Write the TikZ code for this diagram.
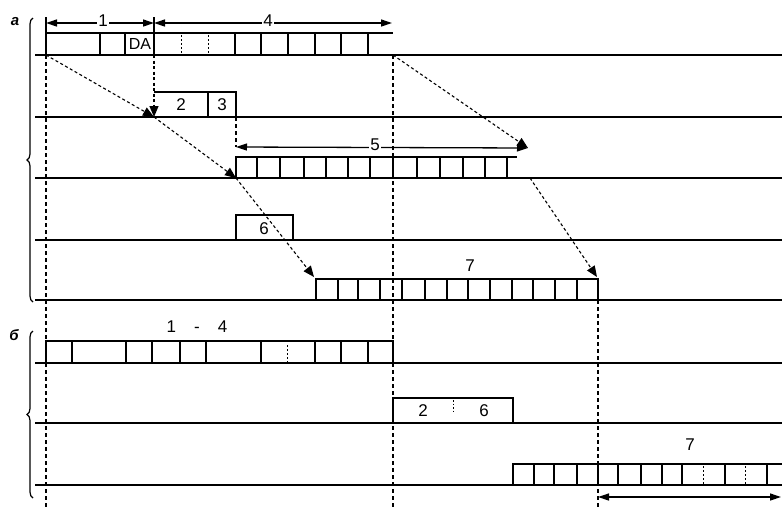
\documentclass[tikz,border=0pt]{standalone}
\usepackage{fontspec}
\setmainfont{Liberation Sans}
\usetikzlibrary{arrows.meta,decorations.pathreplacing}
\begin{document}
\begin{tikzpicture}[x=1pt,y=-1pt,
  axis/.style={line width=1.6pt},
  cellbox/.style={line width=1.3pt},
  thin cell/.style={line width=1pt,dash pattern=on 2pt off 2pt},
  guide/.style={line width=1.1pt,dash pattern=on 4pt off 3pt},
  flow/.style={line width=1.1pt,dash pattern=on 3pt off 2.5pt,-{Triangle[length=11pt,width=9pt]}},
  dimline/.style={line width=1.3pt,{Triangle[length=11pt,width=7pt]}-{Triangle[length=11pt,width=7pt]}},
  lbl/.style={font=\fontsize{17}{17}\selectfont,inner sep=1pt},
  seclbl/.style={font=\fontsize{15}{15}\selectfont\bfseries\itshape,inner sep=0pt},
  bracestyle/.style={line width=1.2pt,decorate,decoration={brace,amplitude=6pt}}]
\useasboundingbox (0,0) rectangle (782,507);
\fill[white] (0,0) rectangle (782,507);

% time axes
\foreach \y in {55,117,178,240,300,363,423,485}
  \draw[axis] (35,\y) -- (782,\y);

% named points
\coordinate (a1s) at (46,55);
\coordinate (a1e) at (393,55);
\coordinate (daTop) at (154,55);
\coordinate (a2s) at (154,117);
\coordinate (a2e) at (236,117);
\coordinate (a3s) at (236,178);
\coordinate (a3e) at (530,178);
\coordinate (a5s) at (314,277);
\coordinate (a5e) at (597,277);
\coordinate (d5e) at (528,148);
\coordinate (a3top) at (236,147);

% guide lines
\draw[guide] (46,55) -- (46,507);
\draw[guide] (393,55) -- (393,507);
\draw[guide] (598,300) -- (598,507);
\draw[guide] (a2e) -- (a3top);

% ---- section a, row 1
\draw[cellbox] (46,55) -- (46,17);
\draw[cellbox] (154,33) -- (154,17);
\draw[cellbox] (46,33) -- (393,33);
\foreach \x in {100,125,154,235,261,288,315,341,368}
  \draw[cellbox] (\x,33) -- (\x,55);
\foreach \x in {181,208}
  \draw[thin cell] (\x,35) -- (\x,55);
\node[font=\fontsize{16}{16}\selectfont,inner sep=0pt] (da) at (140,44) {DA};
\draw[dimline] (46,23) -- (154,23);
\draw[dimline] (154,23) -- (392,23);
\node[lbl,fill=white] (l1) at (103,21) {1};
\node[lbl,fill=white] (l4) at (268,21) {4};

% row 2
\draw[cellbox] (154,92) -- (236,92) -- (236,117);
\draw[cellbox] (208,92) -- (208,117);
\node[lbl] (l2) at (181,105) {2};
\node[lbl] (l3) at (222,105) {3};

% row 3
\draw[cellbox] (236,178) -- (236,157) -- (517,157);
\foreach \x in {257,280,304,326,348,370,393,417,440,463,485,507}
  \draw[cellbox] (\x,157) -- (\x,178);
\draw[dimline] (a3top) -- (d5e);
\node[lbl,fill=white] (l5) at (375,145) {5};

% row 4
\draw[cellbox] (236,240) -- (236,215) -- (293,215) -- (293,240);
\node[lbl] (l6) at (264,229) {6};

% row 5
\draw[cellbox] (316,300) -- (316,279) -- (598,279) -- (598,300);
\foreach \x in {338,358,380,402,425,447,468,490,512,533,555,577}
  \draw[cellbox] (\x,279) -- (\x,300);
\node[lbl] (l7) at (470,266) {7};

% flow arrows
\draw[flow] (daTop) -- (a2s);
\draw[flow] (a1s) -- (a2s);
\draw[flow] (a2s) -- (a3s);
\draw[flow] (a3s) -- (a5s);
\draw[flow] (a1e) -- (d5e);
\draw[flow] (a3e) -- (a5e);

% ---- section b, row 1
\draw[cellbox] (46,363) -- (46,341) -- (393,341) -- (393,363);
\foreach \x in {72,126,152,180,206,261,315,341,368}
  \draw[cellbox] (\x,341) -- (\x,363);
\draw[thin cell] (287,345) -- (287,363);
\node[lbl] (l14) at (197,327) {1\hspace{18pt}-\hspace{18pt}4};

% row 2
\draw[cellbox] (393,423) -- (393,398) -- (513,398) -- (513,423);
\draw[line width=1pt,dash pattern=on 1.5pt off 2pt] (453,400) -- (453,413);
\node[lbl] (m2) at (423,411) {2};
\node[lbl] (m6) at (484,411) {6};

% row 3
\draw[cellbox] (513,485) -- (513,464) -- (782,464);
\foreach \x in {534,554,577,598,618,641,662,682,725,767}
  \draw[cellbox] (\x,464) -- (\x,485);
\foreach \x in {703,745}
  \draw[thin cell] (\x,466) -- (\x,485);
\node[lbl] (m7) at (690,445) {7};
\coordinate (b3s) at (598,497);
\coordinate (b3e) at (781,497);
\draw[dimline] (b3s) -- (b3e);

% braces and section labels
\draw[bracestyle] (33,302) -- (33,18);
\draw[bracestyle] (33,498) -- (33,331);
\node[seclbl] (sa) at (15,22) {а};
\node[seclbl] (sb) at (14,335) {б};
\end{tikzpicture}
\end{document}
